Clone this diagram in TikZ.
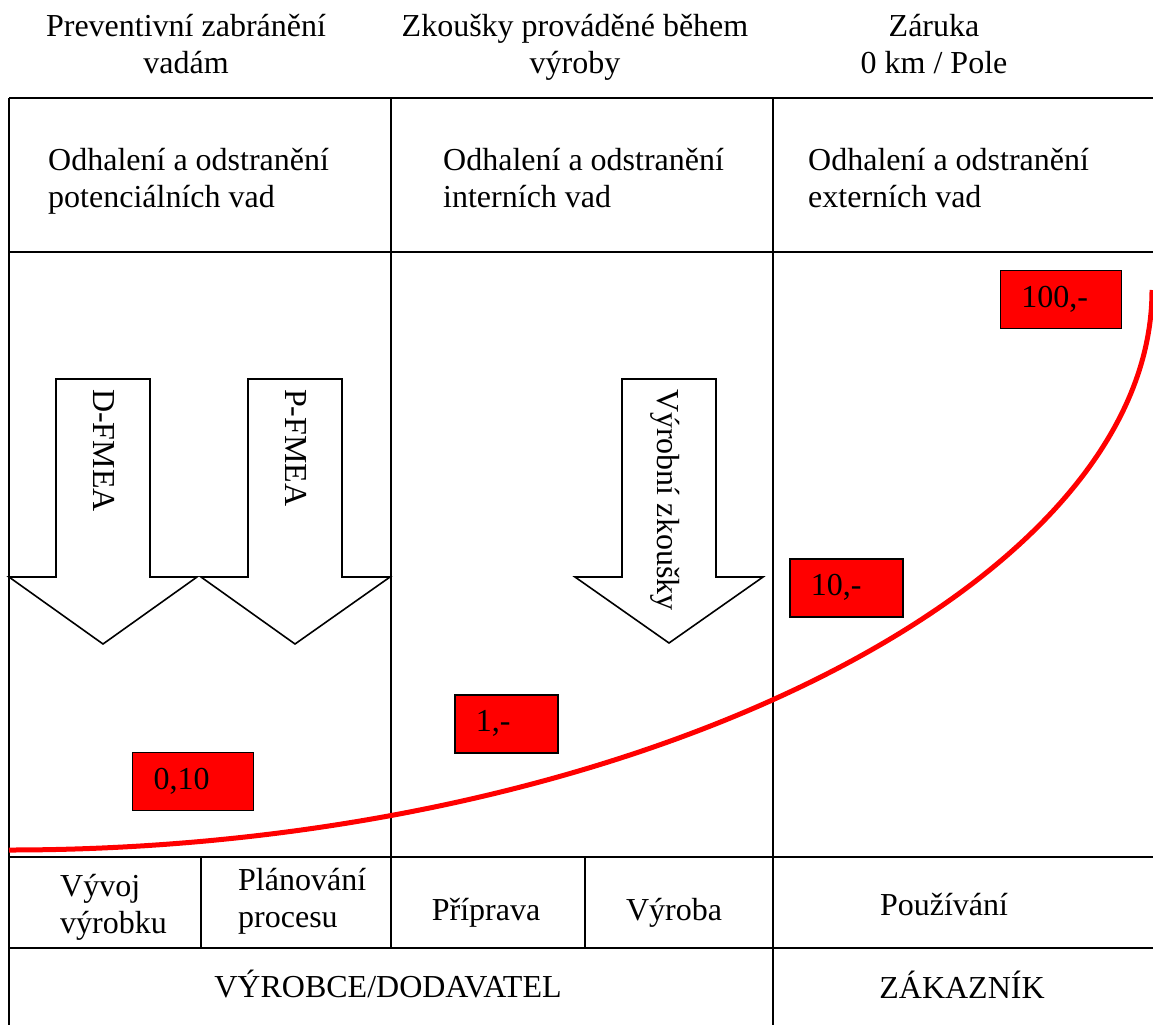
\documentclass[tikz,border=0pt]{standalone}
\usepackage{fontspec}
\setmainfont{Liberation Serif}
\begin{document}
\begin{tikzpicture}[x=1pt,y=-1pt,
  txt/.style={inner sep=0pt, font=\fontsize{32}{36.8}\selectfont},
  hdr/.style={txt, align=center, anchor=base},
  lft/.style={txt, align=left, anchor=base west},
  ctr/.style={txt, anchor=base},
  gridline/.style={line width=2pt},
  bigarrow/.style={draw=black, fill=white, line width=1.6pt, line join=miter},
  vtxt/.style={txt, rotate=-90, anchor=base west},
  cost/.style={draw=black, fill=red, line width=1.6pt, txt, inner xsep=21pt, inner ysep=0pt, align=left, minimum height=58pt, anchor=north west},
  costcurve/.style={draw=red, line width=5pt},
]
\useasboundingbox (0,0) rectangle (1153,1025);
\fill[white] (0,0) rectangle (1153,1025);

% table grid
\draw[gridline] (9,98) -- (1153,98);
\draw[gridline] (9,252) -- (1153,252);
\draw[gridline] (9,857) -- (1153,857);
\draw[gridline] (9,948) -- (1153,948);
\draw[gridline] (9,98) -- (9,1025);
\draw[gridline] (391,98) -- (391,948);
\draw[gridline] (773,98) -- (773,1025);
\draw[gridline] (201,857) -- (201,948);
\draw[gridline] (585,857) -- (585,948);

% headers (base anchor = baseline of the last line)
\node[hdr] (h1) at (186,73.5) {Preventivní zabránění\\vadám};
\node[hdr] (h2) at (575,73.5) {Zkoušky prováděné během\\výroby};
\node[hdr] (h3) at (934,73.5) {Záruka\\0 km / Pole};

% second row
\node[lft] (r1) at (48,207) {Odhalení a odstranění\\potenciálních vad};
\node[lft] (r2) at (443,207) {Odhalení a odstranění\\interních vad};
\node[lft] (r3) at (808,207) {Odhalení a odstranění\\externích vad};

% arrows
\draw[bigarrow] (56,379) -- (150,379) -- (150,577) -- (197,577) -- (103,644) -- (9,577) -- (56,577) -- cycle;
\draw[bigarrow] (248,379) -- (342,379) -- (342,577) -- (390,577) -- (295,644) -- (201,577) -- (248,577) -- cycle;
\draw[bigarrow] (622,379) -- (716,379) -- (716,577) -- (763,577) -- (669,643) -- (575,577) -- (622,577) -- cycle;
\node[vtxt] (dfmea) at (93,389) {D-FMEA};
\node[vtxt] (pfmea) at (285,389) {P-FMEA};
\node[vtxt] (vz) at (657,389) {Výrobní zkoušky};

% cost curve
\draw[costcurve] (9,850) .. controls (620,850) and (1152,590) .. (1152,290);

% cost boxes
\node[cost, text width=79pt] (c1) at (131.7,751.7) {0,10};
\node[cost, text width=61pt] (c2) at (454,694) {1,-};
\node[cost, text width=71pt] (c3) at (789,558) {10,-};
\node[cost, text width=79pt] (c4) at (999.5,269.5) {100,-};

% bottom rows
\node[lft] (b1) at (60,933) {Vývoj\\výrobku};
\node[lft] (b2) at (238,927) {Plánování\\procesu};
\node[ctr] (b3) at (486,920) {Příprava};
\node[ctr] (b4) at (674,920) {Výroba};
\node[ctr] (b5) at (944,915) {Používání};
\node[ctr] (s1) at (388,997) {VÝROBCE/DODAVATEL};
\node[ctr] (s2) at (962,998) {ZÁKAZNÍK};
\end{tikzpicture}
\end{document}
